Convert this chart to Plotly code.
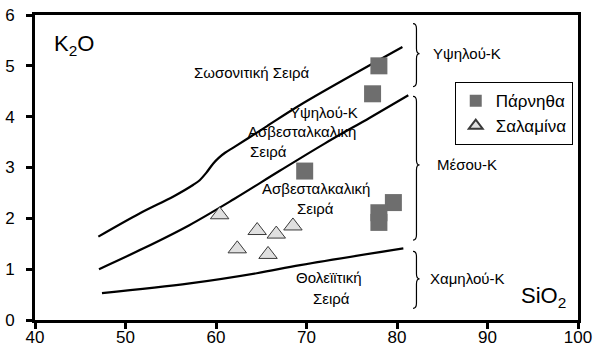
import plotly.graph_objects as go

# Sample analyses: SiO2 (wt%) vs K2O (wt%)
parnitha_sio2 = [78.0, 77.3, 69.8, 79.6, 78.0, 78.0]
parnitha_k2o = [5.00, 4.45, 2.93, 2.31, 2.11, 1.92]

salamina_sio2 = [60.4, 62.35, 64.55, 66.66, 68.5, 65.75]
salamina_k2o = [2.07, 1.40, 1.76, 1.69, 1.85, 1.29]

# Series boundaries
shosh_sio2 = [47.0, 51.6, 55.3, 57.5, 58.2, 58.9, 59.7, 60.3, 61.0, 62.0, 63.5, 65.6, 69.3, 80.6]
shosh_k2o = [1.64, 2.10, 2.43, 2.66, 2.75, 2.89, 3.08, 3.19, 3.29, 3.40, 3.57, 3.81, 4.23, 5.37]

highk_sio2 = [47.07, 52.0, 57.0, 62.0, 67.0, 72.0, 77.0, 81.25]
highk_k2o = [1.00, 1.41, 1.86, 2.38, 2.93, 3.47, 3.98, 4.42]

lowk_sio2 = [47.4, 57.1, 64.5, 69.3, 80.7]
lowk_k2o = [0.53, 0.72, 0.92, 1.08, 1.41]

# Field labels: (text, SiO2, K2O)
field_labels = [
    ("Σωσονιτική Σειρά", 64.03, 4.86),
    ("Υψηλού-Κ", 71.88, 4.09),
    ("Ασβεσταλκαλικη", 69.45, 3.70),
    ("Σειρά", 65.8, 3.31),
    ("Ασβεσταλκαλική", 71.05, 2.58),
    ("Σειρά", 70.94, 2.20),
    ("Θολεϊϊτική", 72.54, 0.83),
    ("Σειρά", 72.76, 0.43),
]

# K-group brackets: (label, top, middle, bottom)
k_groups = [
    ("Υψηλού-Κ", 5.83, 5.24, 4.59),
    ("Μέσου-Κ", 4.40, 3.05, 1.57),
    ("Χαμηλού-Κ", 1.35, 0.81, 0.23),
]

FONT = "Arial, 'Liberation Sans', sans-serif"

fig = go.Figure()

for xs, ys in [(shosh_sio2, shosh_k2o), (highk_sio2, highk_k2o), (lowk_sio2, lowk_k2o)]:
    fig.add_trace(go.Scatter(
        x=xs, y=ys, mode="lines",
        line=dict(color="black", width=2.2, shape="spline", smoothing=1.0),
        showlegend=False, hoverinfo="skip",
    ))

fig.add_trace(go.Scatter(
    x=parnitha_sio2, y=parnitha_k2o, mode="markers", name="Πάρνηθα",
    marker=dict(symbol="square", size=17, color="#6e6e6e", line=dict(width=0)),
))
fig.add_trace(go.Scatter(
    x=salamina_sio2, y=salamina_k2o, mode="markers", name="Σαλαμίνα",
    marker=dict(symbol="triangle-up", size=16, color="#e0e0e0",
                line=dict(color="#3a3a3a", width=1)),
))

annotations = []
for text, x, y in field_labels:
    annotations.append(dict(x=x, y=y, xref="x", yref="y", text=text, showarrow=False,
                            font=dict(family=FONT, size=15, color="black"),
                            xanchor="center", yanchor="middle"))

# Curly brackets to the right of the boundaries
bx0, bx1, bx2, bd = 81.77, 82.15, 82.49, 0.1
shapes = []
for label, yt, ym, yb in k_groups:
    path = (f"M {bx0},{yt} Q {bx1},{yt} {bx1},{yt - bd} "
            f"L {bx1},{ym + bd} Q {bx1},{ym} {bx2},{ym} "
            f"Q {bx1},{ym} {bx1},{ym - bd} "
            f"L {bx1},{yb + bd} Q {bx1},{yb} {bx0},{yb}")
    shapes.append(dict(type="path", path=path, xref="x", yref="y",
                       line=dict(color="black", width=1.2)))
    annotations.append(dict(x=87.7, y=ym, xref="x", yref="y", text=label, showarrow=False,
                            font=dict(family=FONT, size=15, color="black"),
                            xanchor="center", yanchor="middle"))

annotations.append(dict(x=41.88, y=5.41, xref="x", yref="y", text="K<sub>2</sub>O",
                        showarrow=False, font=dict(family=FONT, size=22, color="black"),
                        xanchor="left", yanchor="middle"))
annotations.append(dict(x=98.9, y=0.45, xref="x", yref="y", text="SiO<sub>2</sub>",
                        showarrow=False, font=dict(family=FONT, size=22, color="black"),
                        xanchor="right", yanchor="middle"))

axis_common = dict(
    showline=True, linewidth=3, linecolor="black", mirror=True,
    ticks="outside", ticklen=6, tickwidth=3, tickcolor="black",
    showgrid=False, zeroline=False, automargin=False,
    tickfont=dict(family=FONT, size=17, color="black"),
)

fig.update_layout(
    width=596, height=358, autosize=False,
    margin=dict(l=35, r=18, t=15, b=38),
    paper_bgcolor="white", plot_bgcolor="white",
    xaxis=dict(range=[40, 100], tick0=40, dtick=10, ticklabelstandoff=-6, **axis_common),
    yaxis=dict(range=[0, 6], tick0=0, dtick=1, ticklabelstandoff=8, **axis_common),
    legend=dict(x=0.773, y=0.78, xanchor="left", yanchor="top",
                bgcolor="white", bordercolor="black", borderwidth=1,
                font=dict(family=FONT, size=17, color="black"),
                itemsizing="constant", tracegroupgap=0),
    shapes=shapes,
    annotations=annotations,
    showlegend=True,
)

fig.write_html("out.html")
